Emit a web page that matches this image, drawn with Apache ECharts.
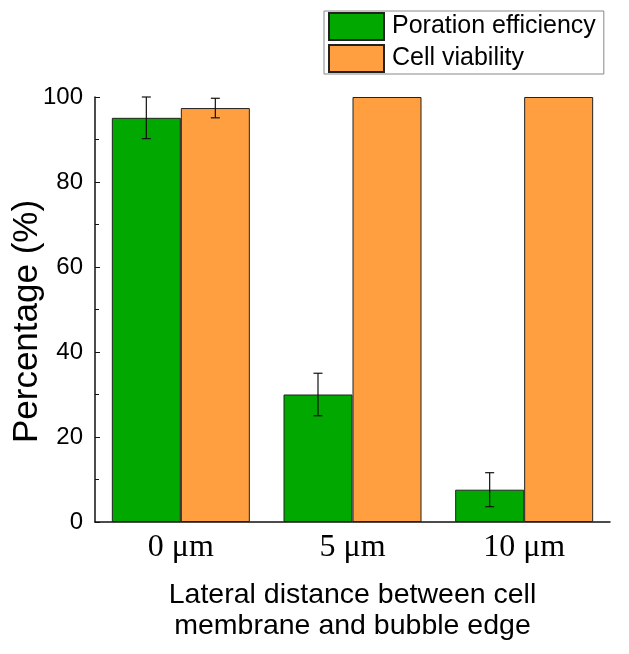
<!DOCTYPE html>
<html>
<head>
<meta charset="utf-8">
<script src="https://cdn.jsdelivr.net/npm/echarts@6/dist/echarts.min.js"></script>
<style>
  html, body { margin: 0; padding: 0; background: #fff; }
  #chart { width: 629px; height: 654px; }
</style>
</head>
<body>
<div id="chart"></div>
<script>
const categories = ["0 \u03bcm", "5 \u03bcm", "10 \u03bcm"];
const porationValues = [95.1, 30.0, 7.6];
const porationErrors = [4.9, 5.0, 4.0];
const viabilityValues = [97.4, 100, 100];
const viabilityErrors = [2.3, 0, 0];
const yTicks = [0, 20, 40, 60, 80, 100];

const BAR_W = 69;

let chart = echarts.init(document.getElementById("chart"));

// error bars drawn on top of bars, shifted to each bar's center
function errorSeries(values, errors, offset) {
  return {
    type: "custom",
    z: 10,
    silent: true,
    data: values.map((v, i) => [i, v - errors[i], v + errors[i], errors[i]]),
    renderItem: function (params, api) {
      if (api.value(3) === 0) return null;
      let lo = api.coord([api.value(0), api.value(1)]);
      let hi = api.coord([api.value(0), api.value(2)]);
      let x = lo[0] + offset;
      let cap = 4.5;
      let style = { stroke: "#111", lineWidth: 1.2 };
      return {
        type: "group",
        children: [
          { type: "line", shape: { x1: x, y1: lo[1], x2: x, y2: hi[1] }, style: style },
          { type: "line", shape: { x1: x - cap, y1: lo[1], x2: x + cap, y2: lo[1] }, style: style },
          { type: "line", shape: { x1: x - cap, y1: hi[1], x2: x + cap, y2: hi[1] }, style: style },
        ],
      };
    },
  };
}

let option = {
  animation: false,
  backgroundColor: "#fff",
  grid: { left: 95, right: 19, top: 97, bottom: 132, containLabel: false, outerBoundsMode: "none" },
  legend: {
    orient: "vertical",
    left: 324,
    top: 11,
    itemGap: 3,
    itemWidth: 55,
    itemHeight: 27,
    padding: [1, 8, 1, 4],
    borderColor: "#888",
    borderWidth: 1,
    icon: "rect",
    textStyle: { fontFamily: "Liberation Sans", fontSize: 25, color: "#000", padding: [0, 0, 0, 3] },
    data: ["Poration efficiency", "Cell viability"],
  },
  xAxis: {
    type: "category",
    data: categories,
    boundaryGap: true,
    axisLine: { lineStyle: { color: "#111", width: 1.5 } },
    axisTick: { inside: true, length: 4, lineStyle: { color: "#111" } },
    axisLabel: { fontFamily: "Liberation Serif", fontSize: 32, color: "#000", margin: 10 },
    name: "Lateral distance between cell\nmembrane and bubble edge",
    nameLocation: "middle",
    nameGap: 58,
    nameMoveOverlap: false,
    nameTextStyle: { fontFamily: "Liberation Sans", fontSize: 28.5, color: "#000", lineHeight: 31 },
  },
  yAxis: {
    type: "value",
    min: yTicks[0],
    max: yTicks[yTicks.length - 1],
    interval: 20,
    splitLine: { show: false },
    axisLine: { show: true, lineStyle: { color: "#111", width: 1.5 } },
    axisTick: { show: true, inside: true, length: 5, lineStyle: { color: "#111" } },
    minorTick: { show: true, splitNumber: 2, length: 4, lineStyle: { color: "#111" } },
    axisLabel: { fontFamily: "Liberation Sans", fontSize: 24, color: "#000", margin: 12 },
    name: "Percentage (%)",
    nameLocation: "middle",
    nameGap: 50,
    nameMoveOverlap: false,
    nameTextStyle: { fontFamily: "Liberation Sans", fontSize: 35, color: "#000", padding: [0, 24, 0, 0] },
  },
  series: [
    {
      name: "Poration efficiency",
      type: "bar",
      barWidth: BAR_W,
      barGap: "0%",
      data: porationValues,
      itemStyle: { color: "#00a800", borderColor: "#222", borderWidth: 1 },
    },
    {
      name: "Cell viability",
      type: "bar",
      barWidth: BAR_W,
      barGap: "0%",
      data: viabilityValues,
      itemStyle: { color: "#ff9f40", borderColor: "#222", borderWidth: 1 },
    },
    errorSeries(porationValues, porationErrors, -BAR_W / 2),
    errorSeries(viabilityValues, viabilityErrors, BAR_W / 2),
  ],
};

chart.setOption(option);
</script>
</body>
</html>
